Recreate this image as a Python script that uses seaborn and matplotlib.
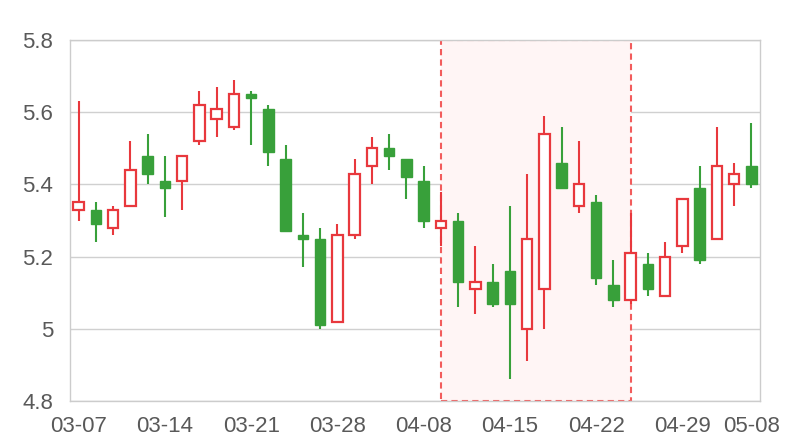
import numpy as np
import pandas as pd
import matplotlib
matplotlib.use("Agg")
import matplotlib.pyplot as plt
import seaborn as sns

# datos diarios (OHLC)
dates = ["03-07", "03-08", "03-11", "03-12", "03-13", "03-14", "03-15", "03-18", "03-19", "03-20",
         "03-21", "03-22", "03-25", "03-26", "03-27", "03-28", "03-29", "04-01", "04-02", "04-03",
         "04-08", "04-09", "04-10", "04-11", "04-12", "04-15", "04-16", "04-17", "04-18", "04-19",
         "04-22", "04-23", "04-24", "04-25", "04-26", "04-29", "04-30", "05-06", "05-07", "05-08"]
opens = [5.33, 5.33, 5.28, 5.34, 5.48, 5.41, 5.41, 5.52, 5.58, 5.56,
         5.65, 5.61, 5.47, 5.26, 5.25, 5.02, 5.26, 5.45, 5.50, 5.47,
         5.41, 5.28, 5.30, 5.11, 5.13, 5.16, 5.00, 5.11, 5.46, 5.34,
         5.35, 5.12, 5.08, 5.18, 5.09, 5.23, 5.39, 5.25, 5.40, 5.45]
closes = [5.35, 5.29, 5.33, 5.44, 5.43, 5.39, 5.48, 5.62, 5.61, 5.65,
          5.64, 5.49, 5.27, 5.25, 5.01, 5.26, 5.43, 5.50, 5.48, 5.42,
          5.30, 5.30, 5.13, 5.13, 5.07, 5.07, 5.25, 5.54, 5.39, 5.40,
          5.14, 5.08, 5.21, 5.11, 5.20, 5.36, 5.19, 5.45, 5.43, 5.40]
lows = [5.30, 5.24, 5.26, 5.34, 5.40, 5.31, 5.33, 5.51, 5.53, 5.55,
        5.51, 5.45, 5.27, 5.17, 5.00, 5.02, 5.25, 5.40, 5.44, 5.36,
        5.28, 5.23, 5.06, 5.04, 5.06, 4.86, 4.91, 5.00, 5.39, 5.32,
        5.12, 5.06, 5.07, 5.09, 5.09, 5.21, 5.18, 5.25, 5.34, 5.39]
highs = [5.63, 5.35, 5.34, 5.52, 5.54, 5.48, 5.48, 5.66, 5.67, 5.69,
         5.66, 5.62, 5.51, 5.32, 5.28, 5.29, 5.47, 5.53, 5.54, 5.47,
         5.45, 5.38, 5.32, 5.23, 5.18, 5.34, 5.43, 5.59, 5.56, 5.52,
         5.37, 5.19, 5.32, 5.21, 5.24, 5.36, 5.45, 5.56, 5.46, 5.57]

# zona resaltada
mark_start, mark_end = "04-09", "04-24"
tick_dates = ["03-07", "03-14", "03-21", "03-28", "04-08", "04-15", "04-22", "04-29", "05-08"]
y_ticks = [4.8, 5.0, 5.2, 5.4, 5.6, 5.8]
y_labels = ["4.8", "5", "5.2", "5.4", "5.6", "5.8"]

df = pd.DataFrame({"date": dates, "open": opens, "close": closes, "low": lows, "high": highs})
df["pos"] = np.arange(len(df))
df["up"] = df["close"] >= df["open"]

UP = "#e8383d"
DOWN = "#38a03a"

sns.set_theme(style="white")
plt.rcParams["font.family"] = ["Liberation Sans", "DejaVu Sans"]

fig = plt.figure(figsize=(8, 4.4), dpi=100)
ax = fig.add_axes([0.0875, 0.0886, 0.8625, 0.8205])

# zona marcada
x0 = dates.index(mark_start)
x1 = dates.index(mark_end)
ax.axvspan(x0, x1, facecolor="#fff5f5", edgecolor="#f25c5c", linestyle=(0, (3, 2)),
           linewidth=1.5, zorder=1)

colors = np.where(df["up"], UP, DOWN)

# mechas
ax.vlines(df["pos"], df["low"], df["high"], colors=colors, linewidth=1.5, zorder=3)

# cuerpos
bottoms = np.minimum(df["open"], df["close"])
heights = np.abs(df["close"] - df["open"])
up = df[df["up"]]
dn = df[~df["up"]]
ax.bar(up["pos"], heights[df["up"]], bottom=bottoms[df["up"]], width=0.62,
       color="white", edgecolor=UP, linewidth=1.6, zorder=4)
ax.bar(dn["pos"], heights[~df["up"]], bottom=bottoms[~df["up"]], width=0.62,
       color=DOWN, edgecolor=DOWN, linewidth=1.0, zorder=4)

ax.set_xlim(-0.5, len(dates) - 0.5)
ax.set_ylim(4.8, 5.8)
ax.set_yticks(y_ticks)
ax.set_yticklabels(y_labels)
ax.set_xticks([dates.index(d) for d in tick_dates])
ax.set_xticklabels(tick_dates)
ax.yaxis.grid(True, color="#d0d0d0", linewidth=1.0, zorder=0)
ax.set_axisbelow(True)
for s in ax.spines.values():
    s.set_color("#cccccc")
    s.set_linewidth(1.0)
ax.tick_params(axis="both", length=0, labelsize=16, colors="#595959")
ax.tick_params(axis="x", pad=11)
ax.tick_params(axis="y", pad=12)

fig.savefig("out.png", dpi=100)
